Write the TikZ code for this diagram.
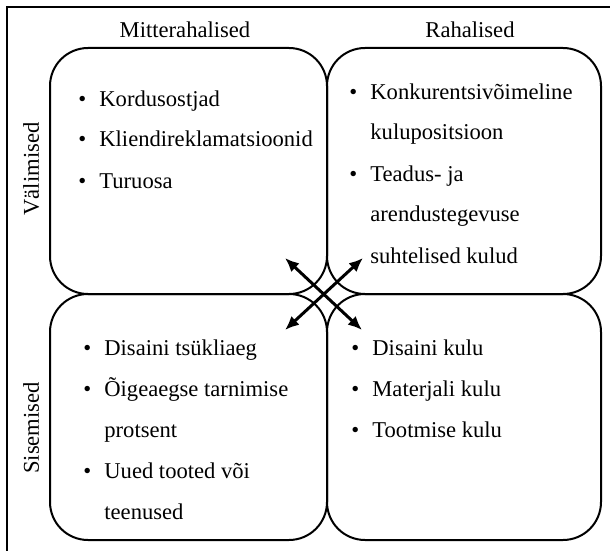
\documentclass[tikz,border=0pt]{standalone}
\usepackage{fontspec}
\setmainfont{Liberation Serif}
\usepackage{tikz}
\usetikzlibrary{arrows.meta, positioning, calc}
\newcommand{\bul}{\makebox[10.5pt][l]{\textbullet}}
\newcommand{\ind}{\hspace*{10.5pt}}

\begin{document}
\begin{tikzpicture}[x=0.5pt, y=-0.5pt,
  quad/.style={draw, line width=1pt, rounded corners=19pt, minimum height=123pt, inner sep=0pt},
  items/.style={anchor=base west, inner sep=0pt, font=\fontsize{11.3}{20.5}\selectfont},
  head/.style={anchor=base, inner sep=0pt, font=\fontsize{11.3}{13}\selectfont},
  arr/.style={{Latex[length=7pt,width=6pt]}-{Latex[length=7pt,width=6pt]}, line width=1.5pt}]

\useasboundingbox (0,0) rectangle (610,551);

% Frame
\draw[line width=1pt] (6.5,551) |- (610,7);

% Quadrants
\node[quad, minimum width=138.5pt] (tl) at (188.5,171) {};
\node[quad, minimum width=137pt] (tr) at (464,171) {};
\node[quad, minimum width=138.5pt] (bl) at (188.5,417) {};
\node[quad, minimum width=137pt] (br) at (464,417) {};

% Headers
\node[head] (mitte) at (185,38) {Mitterahalised};
\node[head] (raha) at (470,38) {Rahalised};
\node[head, rotate=90] (valim) at (39,169) {Välimised};
\node[head, rotate=90] (sisem) at (39,428) {Sisemised};

% Lists
\node[items] (tlt) at (78,106) {\begin{tabular}[t]{@{}l@{}}
  \bul Kordusostjad\\
  \bul Kliendireklamatsioonid\\
  \bul Turuosa
\end{tabular}};
\node[items] (trt) at (349,99) {\begin{tabular}[t]{@{}l@{}}
  \bul Konkurentsivõimeline\\
  \ind kulupositsioon\\
  \bul Teadus- ja\\
  \ind arendustegevuse\\
  \ind suhtelised kulud
\end{tabular}};
\node[items] (blt) at (83,355) {\begin{tabular}[t]{@{}l@{}}
  \bul Disaini tsükliaeg\\
  \bul Õigeaegse tarnimise\\
  \ind protsent\\
  \bul Uued tooted või\\
  \ind teenused
\end{tabular}};
\node[items] (brt) at (351,355) {\begin{tabular}[t]{@{}l@{}}
  \bul Disaini kulu\\
  \bul Materjali kulu\\
  \bul Tootmise kulu
\end{tabular}};

% Crossing arrows
\coordinate (nw) at (285,258);
\coordinate (se) at (362,330);
\coordinate (ne) at (363,258);
\coordinate (sw) at (285,330);
\draw[arr] (nw) -- (se);
\draw[arr] (sw) -- (ne);

\end{tikzpicture}
\end{document}
